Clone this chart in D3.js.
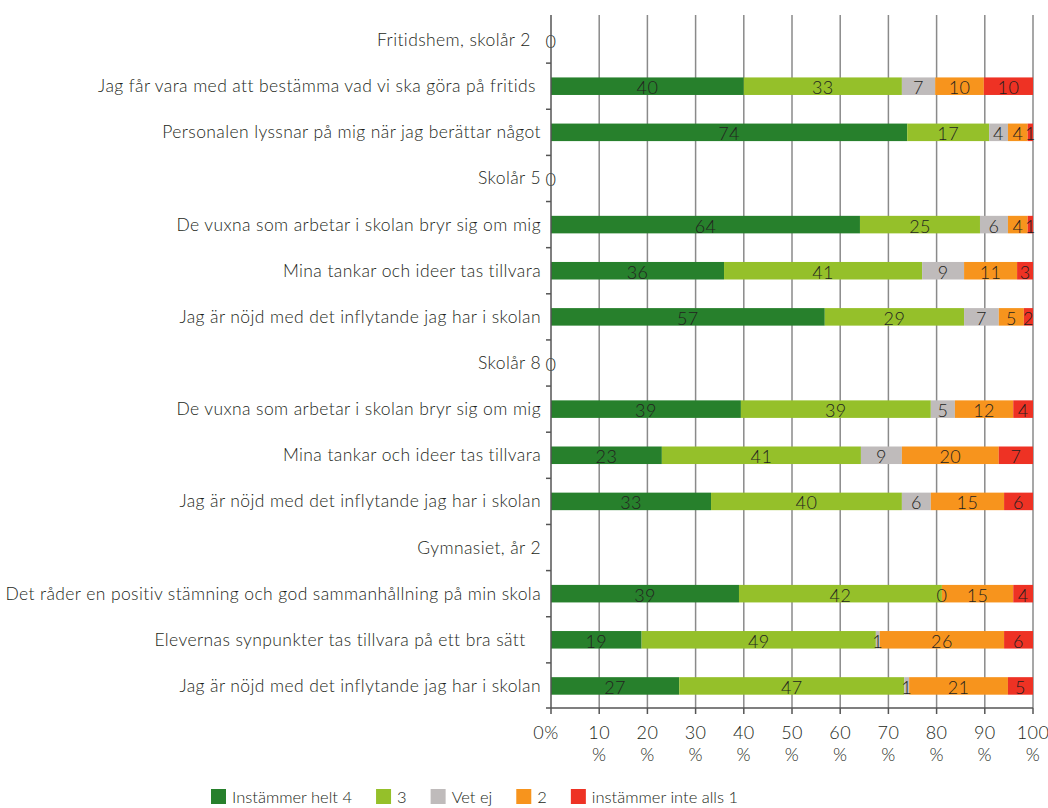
<!DOCTYPE html>
<html>
<head>
<meta charset="utf-8">
<script src="https://cdn.jsdelivr.net/npm/d3@7/dist/d3.min.js"></script>
<style>
  body { margin: 0; background: #fff; }
  text { font-family: Lato, "Noto Sans", sans-serif; font-weight: 300; fill: #231f20; white-space: pre; letter-spacing: 0.4px; }
  .legend text { letter-spacing: 0; }
</style>
</head>
<body>
<div id="chart"></div>
<script>
const categories = [
  'Fritidshem, skolår 2  ',
  'Jag får vara med att bestämma vad vi ska göra på fritids ',
  'Personalen lyssnar på mig när jag berättar något',
  'Skolår 5',
  'De vuxna som arbetar i skolan bryr sig om mig',
  'Mina tankar och ideer tas tillvara',
  'Jag är nöjd med det inflytande jag har i skolan',
  'Skolår 8',
  'De vuxna som arbetar i skolan bryr sig om mig',
  'Mina tankar och ideer tas tillvara',
  'Jag är nöjd med det inflytande jag har i skolan',
  'Gymnasiet, år 2',
  'Det råder en positiv stämning och god sammanhållning på min skola',
  'Elevernas synpunkter tas tillvara på ett bra sätt   ',
  'Jag är nöjd med det inflytande jag har i skolan'
]

const seriesNames = ['Instämmer helt 4', '3', 'Vet ej', '2', 'instämmer inte alls 1']
const seriesColors = ['#27802c', '#95c02a', '#bfbbbb', '#f7941d', '#ee3224']

// one array per series, one value per category (null = no bar)
const helt4 = [0, 40.0, 73.9, 0, 64.1, 35.9, 56.8, 0, 39.4, 23.0, 33.2, null, 39.0, 18.8, 26.6]
const three = [null, 32.8, 17.0, null, 24.9, 41.1, 28.9, null, 39.4, 41.3, 39.6, null, 42.1, 48.6, 46.7]
const vetEj = [null, 6.9, 3.9, null, 5.8, 8.7, 7.2, null, 5.0, 8.5, 6.0, null, 0, 0.8, 1.0]
const two = [null, 10.1, 4.1, null, 4.1, 11.0, 5.2, null, 12.1, 20.1, 15.2, null, 14.8, 25.8, 20.5]
const inteAlls1 = [null, 10.2, 1.1, null, 1.1, 3.3, 1.9, null, 4.1, 7.1, 6.0, null, 4.1, 6.0, 5.2]

const xTicks = [0, 10, 20, 30, 40, 50, 60, 70, 80, 90, 100]
const xTickLabels = ['0%', '10 %', '20 %', '30 %', '40 %', '50 %', '60 %', '70 %', '80 %', '90 %', '100 %']

const width = 1048, height = 808
const plotLeft = 551, plotRight = 1033, plotTop = 17, plotBottom = 709

const allSeries = [helt4, three, vetEj, two, inteAlls1]

const svg = d3.select('#chart')
  .append('svg')
  .attr('width', width)
  .attr('height', height)

const x = d3.scaleLinear().domain([0, 100]).range([plotLeft, plotRight])
const y = d3.scaleBand()
  .domain(d3.range(categories.length))
  .range([plotTop, plotBottom])
  .paddingInner(0.62)
  .paddingOuter(0.31)

const gap = (y.step() - y.bandwidth()) / 2

// vertical grid lines
svg.append('g')
  .selectAll('line')
  .data(xTicks.slice(1))
  .enter()
  .append('line')
  .attr('x1', d => x(d))
  .attr('x2', d => x(d))
  .attr('y1', plotTop - 2)
  .attr('y2', plotBottom - 1)
  .attr('stroke', '#8a8a8a')
  .attr('stroke-width', 1.5)

// stacked segments
const rows = categories.map((c, i) => {
  let acc = 0
  return allSeries.map((s, k) => {
    const v = s[i]
    const seg = { row: i, k: k, v: v, x0: acc, x1: acc + (v || 0) }
    acc = seg.x1
    return seg
  })
})
const segs = rows.flat().filter(d => d.v !== null)

svg.append('g')
  .selectAll('rect')
  .data(segs.filter(d => d.v > 0))
  .enter()
  .append('rect')
  .attr('x', d => x(d.x0))
  .attr('width', d => x(d.x1) - x(d.x0))
  .attr('y', d => y(d.row))
  .attr('height', y.bandwidth())
  .attr('fill', d => seriesColors[d.k])

svg.append('g')
  .selectAll('text')
  .data(segs)
  .enter()
  .append('text')
  .attr('x', d => (x(d.x0) + x(d.x1)) / 2)
  .attr('y', d => y(d.row) + y.bandwidth() / 2 + 8)
  .attr('text-anchor', 'middle')
  .attr('font-size', 18)
  .text(d => Math.round(d.v))

// y axis
svg.append('line')
  .attr('x1', plotLeft).attr('x2', plotLeft)
  .attr('y1', plotTop - 2).attr('y2', plotBottom - 1)
  .attr('stroke', '#555').attr('stroke-width', 1.5)

svg.append('g')
  .selectAll('line')
  .data(d3.range(1, categories.length))
  .enter()
  .append('line')
  .attr('x1', plotLeft - 5).attr('x2', plotLeft)
  .attr('y1', d => y(d) - gap)
  .attr('y2', d => y(d) - gap)
  .attr('stroke', '#555').attr('stroke-width', 1.5)

svg.append('g')
  .selectAll('text')
  .data(categories)
  .enter()
  .append('text')
  .attr('x', plotLeft - 10)
  .attr('y', (d, i) => y(i) + y.bandwidth() / 2 + 6)
  .attr('text-anchor', 'end')
  .attr('font-size', 17.5)
  .text(d => d)

// x axis
svg.append('line')
  .attr('x1', plotLeft - 5).attr('x2', plotRight)
  .attr('y1', plotBottom - 1).attr('y2', plotBottom - 1)
  .attr('stroke', '#555').attr('stroke-width', 1.5)

svg.append('g')
  .selectAll('line')
  .data(xTicks)
  .enter()
  .append('line')
  .attr('x1', d => x(d)).attr('x2', d => x(d))
  .attr('y1', plotBottom - 1).attr('y2', plotBottom + 5)
  .attr('stroke', '#555').attr('stroke-width', 1.5)

const tickText = svg.append('g')
  .selectAll('text')
  .data(xTicks)
  .enter()
  .append('text')
  .attr('x', d => x(d) - (d === 0 ? 5 : 0))
  .attr('y', 739)
  .attr('text-anchor', 'middle')
  .attr('font-size', 18)

tickText.each(function (d, i) {
  const parts = xTickLabels[i].split(' ')
  d3.select(this).selectAll('tspan')
    .data(parts)
    .enter()
    .append('tspan')
    .attr('x', x(d) - (d === 0 ? 5 : 0))
    .attr('dy', (p, j) => j === 0 ? 0 : 22)
    .text(p => p)
})

// legend
const legend = svg.append('g').attr('class', 'legend')
let lx = 211
seriesNames.forEach((name, k) => {
  legend.append('rect')
    .attr('x', lx).attr('y', 789)
    .attr('width', 15).attr('height', 15)
    .attr('fill', seriesColors[k])
  const t = legend.append('text')
    .attr('x', lx + 21).attr('y', 803)
    .attr('font-size', 16.5)
    .text(name)
  lx += 21 + t.node().getComputedTextLength() + 24
})
</script>
</body>
</html>
